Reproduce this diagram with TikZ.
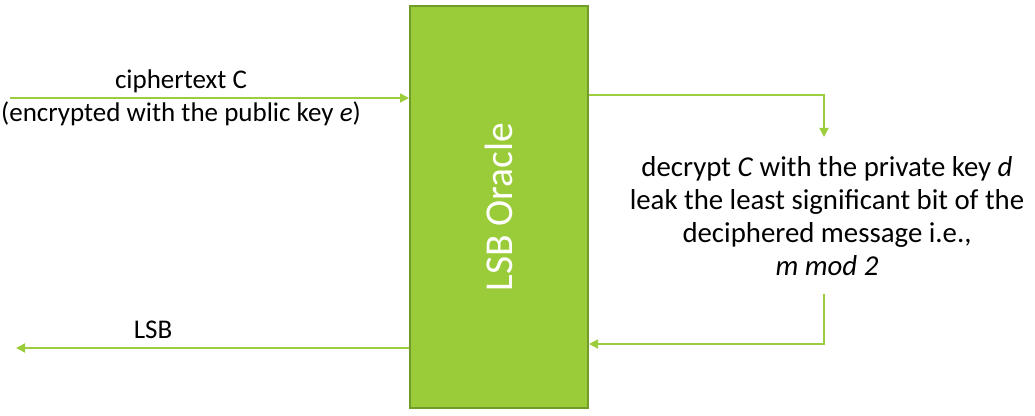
\documentclass[tikz,border=0pt]{standalone}
\usepackage{fontspec}
\setmainfont{Carlito}
\usetikzlibrary{arrows.meta}
\definecolor{oraclefill}{RGB}{154,204,58}
\definecolor{oracleedge}{RGB}{114,156,42}
\definecolor{flowgreen}{RGB}{155,205,60}

\begin{document}
\begin{tikzpicture}[x=1pt,y=1pt,
    flow/.style={draw=flowgreen, line width=1.75pt, -{Triangle[length=9pt,width=9pt]}},
    msg/.style={font=\fontsize{27}{33}\selectfont, inner sep=0pt}]
        \useasboundingbox (0,0) rectangle (1035,415);

        % Oracle box
        \node[draw=oracleedge, fill=oraclefill, line width=2pt, minimum width=178pt, minimum height=402pt, inner sep=0pt] (oracle) at (499,208) {};
        \node[rotate=90, text=white, font=\fontsize{39.5}{44}\selectfont] (title) at (oracle.center) {LSB Oracle};

        % Corners of the connectors
        \coordinate (src) at (10,317);
        \coordinate (sink) at (16,67);
        \coordinate (turnA) at (824,320);
        \coordinate (decA) at (824,278);
        \coordinate (decB) at (824,121);
        \coordinate (turnB) at (824,71);

        % Input side
        \node[msg, anchor=base] (cipher) at (181,326) {ciphertext C};
        \node[msg, anchor=base] (pubkey) at (181,293) {(encrypted with the public key \textit{e})};
        \draw[flow] (src) -- (src -| oracle.west);

        % Decryption step
        \node[align=center, font=\fontsize{28.8}{33}\selectfont, inner sep=0pt] (task) at (827,199)
            {decrypt \textit{C} with the private key \textit{d}\\
             leak the least significant bit of the\\
             deciphered message i.e.,\\
             \textit{m mod 2}};
        \draw[flow] (oracle.east |- turnA) -- (turnA) -- (decA);
        \draw[flow] (decB) -- (turnB) -- (oracle.east |- turnB);

        % Output side
        \node[msg, anchor=base] (lsb) at (153,77) {LSB};
        \draw[flow] (oracle.west |- sink) -- (sink);
    \end{tikzpicture}
\end{document}
